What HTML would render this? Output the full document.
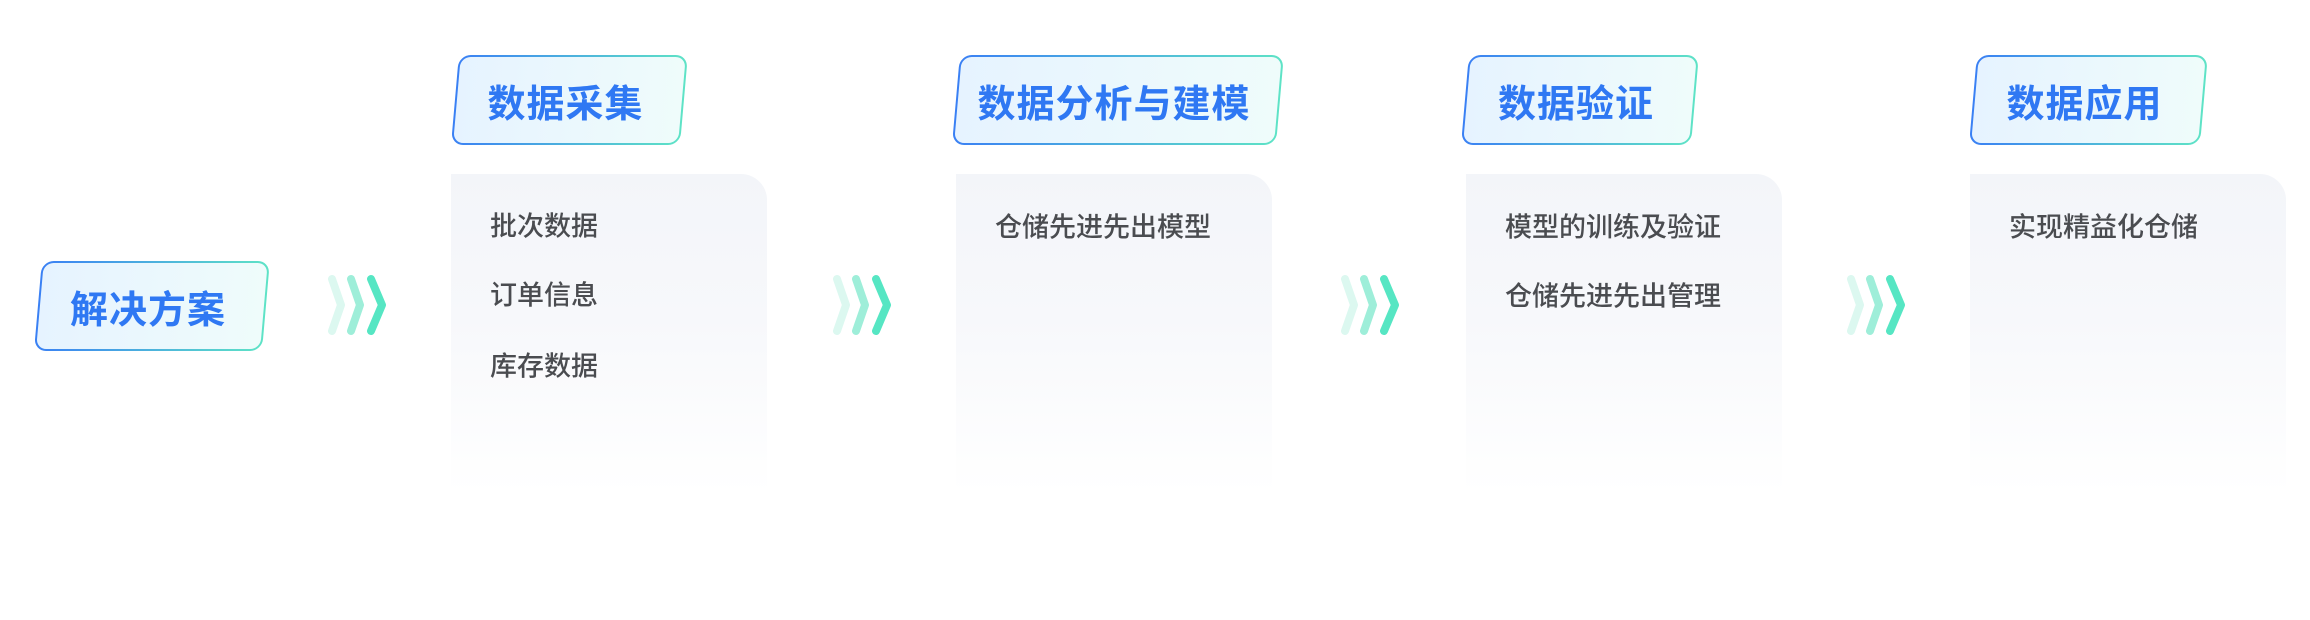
<!DOCTYPE html>
<html><head><meta charset="utf-8"><style>
body{margin:0;width:2310px;height:620px;background:#fff;position:relative;overflow:hidden;font-family:"Liberation Sans","Noto Sans CJK SC",sans-serif}
.h{position:absolute;height:90px;}
.h .bg{position:absolute;inset:0;transform:skewX(-5deg);transform-origin:0 100%;border-radius:12px;padding:2px;background:linear-gradient(90deg,#3a80f4,#5ee3c6);}
.h .bg i{display:block;width:100%;height:100%;border-radius:10px;background:linear-gradient(90deg,#e6f3ff,#effcfb);}
.h span{position:absolute;inset:0;display:flex;align-items:center;justify-content:center;color:#2f78f3;font-size:38px;font-weight:700;letter-spacing:1px}
.c{position:absolute;top:174px;width:316px;height:320px;border-radius:0 26px 0 0;background:linear-gradient(180deg,#f3f5f9 0%,#f7f8fb 45%,#fff 100%)}
.c div{position:absolute;left:39px;font-size:27px;color:#4a4c50;font-weight:500;transform:translateY(-50%);white-space:nowrap}
svg.ch{position:absolute;top:274px;width:70px;height:62px}
</style></head><body>
<div class="h" style="left:34px;top:261px;width:228px"><div class="bg"><i></i></div><span>解决方案</span></div>

<div class="h" style="left:451px;top:55px;width:229px"><div class="bg"><i></i></div><span>数据采集</span></div>
<div class="h" style="left:952px;top:55px;width:324px"><div class="bg"><i></i></div><span>数据分析与建模</span></div>
<div class="h" style="left:1461px;top:55px;width:230px"><div class="bg"><i></i></div><span>数据验证</span></div>
<div class="h" style="left:1969px;top:55px;width:231px"><div class="bg"><i></i></div><span>数据应用</span></div>

<div class="c" style="left:451px"><div style="top:50px">批次数据</div><div style="top:119px">订单信息</div><div style="top:190px">库存数据</div></div>
<div class="c" style="left:956px"><div style="top:51px">仓储先进先出模型</div></div>
<div class="c" style="left:1466px"><div style="top:51px">模型的训练及验证</div><div style="top:120px">仓储先进先出管理</div></div>
<div class="c" style="left:1970px"><div style="top:51px">实现精益化仓储</div></div>

<svg class="ch" style="left:324px" viewBox="0 0 70 62"><g fill="none" stroke-width="8" stroke-linecap="round" stroke-linejoin="round"><polyline points="8,5 17,31 8,57" stroke="#dcf8f0"/><polyline points="27,5 36,31 27,57" stroke="#9eeed9"/><polyline points="47,5 58,31 47,57" stroke="#56e6c3"/></g></svg>
<svg class="ch" style="left:829px" viewBox="0 0 70 62"><g fill="none" stroke-width="8" stroke-linecap="round" stroke-linejoin="round"><polyline points="8,5 17,31 8,57" stroke="#dcf8f0"/><polyline points="27,5 36,31 27,57" stroke="#9eeed9"/><polyline points="47,5 58,31 47,57" stroke="#56e6c3"/></g></svg>
<svg class="ch" style="left:1337px" viewBox="0 0 70 62"><g fill="none" stroke-width="8" stroke-linecap="round" stroke-linejoin="round"><polyline points="8,5 17,31 8,57" stroke="#dcf8f0"/><polyline points="27,5 36,31 27,57" stroke="#9eeed9"/><polyline points="47,5 58,31 47,57" stroke="#56e6c3"/></g></svg>
<svg class="ch" style="left:1843px" viewBox="0 0 70 62"><g fill="none" stroke-width="8" stroke-linecap="round" stroke-linejoin="round"><polyline points="8,5 17,31 8,57" stroke="#dcf8f0"/><polyline points="27,5 36,31 27,57" stroke="#9eeed9"/><polyline points="47,5 58,31 47,57" stroke="#56e6c3"/></g></svg>
</body></html>
